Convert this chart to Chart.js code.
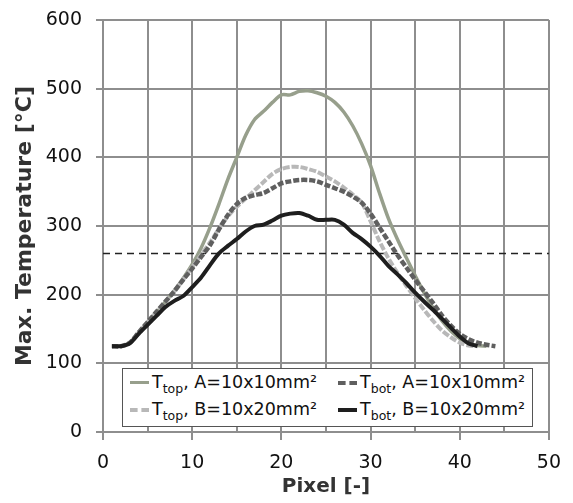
<!DOCTYPE html>
<html>
<head>
<meta charset="utf-8">
<script src="https://cdn.jsdelivr.net/npm/chart.js@4/dist/chart.umd.min.js"></script>
<style>
  body { margin: 0; background: #fff; }
  #wrap { position: relative; width: 573px; height: 503px; }
  #legenda {
    position: absolute; left: 122px; top: 368px; width: 409px; height: 57px;
    background: #fff; border: 1px solid #555;
    font-family: "DejaVu Sans", sans-serif; font-size: 17.5px; color: #111;
  }
  .item { position: absolute; height: 20px; line-height: 20px; white-space: nowrap; }
  .item sub { font-size: 12.5px; vertical-align: -5px; line-height: 0; }
  .amostra { position: absolute; top: 9px; width: 19px; height: 0; }
  .texto { position: absolute; left: 22px; top: 0; }
</style>
</head>
<body>
<div id="wrap">
  <canvas id="grafico" width="573" height="503"></canvas>
  <div id="legenda">
    <div class="item" style="left:7px; top:3px;"><span class="amostra" style="border-top:3px solid #979f8c;"></span><span class="texto">T<sub>top</sub>, A=10x10mm²</span></div>
    <div class="item" style="left:215px; top:3px;"><span class="amostra" style="border-top:4px dashed #5f5f5f;"></span><span class="texto">T<sub>bot</sub>, A=10x10mm²</span></div>
    <div class="item" style="left:7px; top:30px;"><span class="amostra" style="border-top:4px dashed #b8b8b8;"></span><span class="texto">T<sub>top</sub>, B=10x20mm²</span></div>
    <div class="item" style="left:215px; top:30px;"><span class="amostra" style="border-top:4px solid #1e1e1e;"></span><span class="texto">T<sub>bot</sub>, B=10x20mm²</span></div>
  </div>
</div>
<script>
// Valores (pixel 1, 2, 3, ...)
const topA = [125, 125, 130, 144, 159, 174, 190, 206, 224, 244, 268, 298, 332, 368, 400, 432, 455, 467, 480, 491, 491, 496, 497, 494, 489, 480, 466, 446, 420, 388, 348, 311, 281, 254, 228, 203, 181, 162, 147, 136, 129, 126, 125];
const botA = [125, 125, 130, 145, 160, 175, 190, 205, 222, 238, 255, 272, 295, 316, 332, 341, 345, 348, 355, 362, 365, 367, 367, 365, 360, 355, 350, 343, 334, 318, 298, 278, 258, 240, 222, 205, 188, 170, 155, 143, 135, 130, 127, 125];
const topB = [125, 125, 130, 145, 160, 175, 190, 205, 222, 240, 258, 276, 296, 314, 328, 340, 352, 364, 376, 383, 386, 386, 383, 379, 372, 365, 356, 346, 334, 307, 278, 253, 232, 213, 195, 178, 162, 148, 138, 130, 126, 125];
const botB = [125, 125, 129, 143, 156, 169, 182, 191, 198, 211, 225, 243, 260, 271, 281, 292, 300, 302, 308, 315, 318, 319, 315, 309, 309, 309, 302, 290, 281, 270, 257, 242, 230, 217, 203, 190, 178, 165, 152, 139, 129, 125];
const limite = 260; // linha tracejada

const xTicks = [0, 10, 20, 30, 40, 50];
const yTicks = [0, 100, 200, 300, 400, 500, 600];

function pontos(valores) {
    return valores.map((v, i) => ({ x: i + 1, y: v }));
}

const corGrade = '#8e8e8e';

const ctx = document.getElementById('grafico').getContext('2d');
new Chart(ctx, {
    type: 'line',
    data: {
        datasets: [
            { data: pontos(botB), borderColor: '#1e1e1e', borderWidth: 4, order: 1 },
            { data: pontos(botA), borderColor: '#5f5f5f', borderWidth: 4.5, borderDash: [6, 2], order: 2 },
            { data: pontos(topB), borderColor: '#b8b8b8', borderWidth: 4, borderDash: [7, 2], order: 3 },
            { data: pontos(topA), borderColor: '#979f8c', borderWidth: 3.5, order: 4 },
            { data: [{ x: 0, y: limite }, { x: 50, y: limite }], borderColor: '#222', borderWidth: 1.5, borderDash: [7, 5], tension: 0, order: 5 }
        ]
    },
    options: {
        responsive: false,
        animation: false,
        layout: { padding: { top: 20, right: 23, left: 0, bottom: 0 } },
        elements: { point: { radius: 0 }, line: { tension: 0.3, fill: false } },
        plugins: { legend: { display: false }, tooltip: { enabled: false } },
        scales: {
            x: {
                type: 'linear', min: 0, max: 50,
                afterFit: s => { s.height = 71; },
                ticks: {
                    stepSize: 5, padding: 12, color: '#111',
                    font: { family: 'DejaVu Sans', size: 19 },
                    callback: v => xTicks.includes(v) ? v : ''
                },
                grid: {
                    color: corGrade, lineWidth: 2, tickLength: 8,
                    tickColor: c => (c.tick && c.tick.value % 10 === 0) ? corGrade : 'rgba(0,0,0,0)'
                },
                border: { color: corGrade, width: 2 },
                title: {
                    display: true, text: 'Pixel [-]', color: '#333',
                    font: { family: 'DejaVu Sans', size: 20, weight: 'bold' },
                    padding: { top: 0 }
                }
            },
            y: {
                min: 0, max: 600,
                afterFit: s => { s.width = 103; s.paddingTop = 0; },
                ticks: {
                    stepSize: 100, padding: 14, color: '#111',
                    font: { family: 'DejaVu Sans', size: 19 },
                    callback: v => yTicks.includes(v) ? v : ''
                },
                grid: { color: corGrade, lineWidth: 2, tickLength: 7 },
                border: { color: corGrade, width: 2 },
                title: {
                    display: true, text: 'Max. Temperature [°C]', color: '#333',
                    font: { family: 'DejaVu Sans', size: 22, weight: 'bold' },
                    padding: { top: 12, bottom: 0 }
                }
            }
        }
    }
});
</script>
</body>
</html>
